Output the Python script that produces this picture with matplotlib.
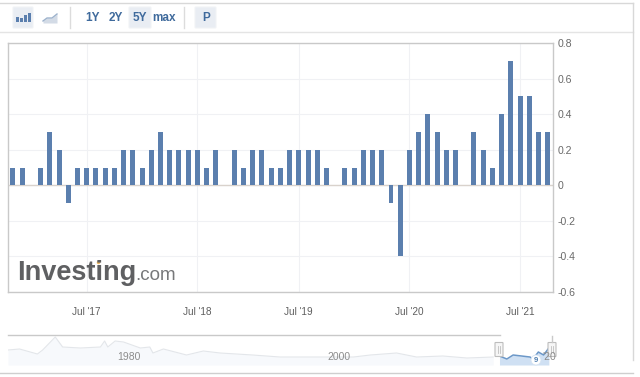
import numpy as np
import matplotlib
matplotlib.use('Agg')
import matplotlib.pyplot as plt
from matplotlib.patches import Circle, FancyBboxPatch, Rectangle

plt.rcParams['font.family'] = ['Liberation Sans', 'DejaVu Sans']

# monthly values, Nov 2016 - Sep 2021
values = [0.1, 0.1, 0, 0.1, 0.3, 0.2, -0.1, 0.1, 0.1, 0.1, 0.1, 0.1,
	0.2, 0.2, 0.1, 0.2, 0.3, 0.2, 0.2, 0.2, 0.2, 0.1, 0.2, 0,
	0.2, 0.1, 0.2, 0.2, 0.1, 0.1, 0.2, 0.2, 0.2, 0.2, 0.1, 0,
	0.1, 0.1, 0.2, 0.2, 0.2, -0.1, -0.4, 0.2, 0.3, 0.4, 0.3, 0.2,
	0.2, 0, 0.3, 0.2, 0.1, 0.4, 0.7, 0.5, 0.5, 0.3, 0.3]
y_ticks = [-0.6, -0.4, -0.2, 0, 0.2, 0.4, 0.6, 0.8]
y_labels = ['-0.6', '-0.4', '-0.2', '0', '0.2', '0.4', '0.6', '0.8']
x_tick_idx = [8, 20, 31, 43, 55]
x_labels = ["Jul '17", "Jul '18", "Jul '19", "Jul '20", "Jul '21"]

# overview strip along the bottom
nav_years = [1970.0, 1971.1, 1972.8, 1973.3, 1974.5, 1975.2, 1976.9, 1978.8, 1979.2, 1979.5,
	1980.2, 1981.0, 1982.6, 1983.5, 1983.8, 1984.8, 1987.0, 1988.6, 1990.2, 1993.3,
	1995.9, 1999.7, 2002.9, 2004.5, 2007.0, 2008.9, 2011.4, 2013.7, 2016.2]
nav_values = [15, 16, 11, 15, 28, 18, 17, 18, 24, 18, 24, 23, 17, 18, 12, 16, 10, 14, 12, 10,
	8, 8, 8, 10, 12, 8, 9, 7, 8]
sel_years = [2016.8, 2017.5, 2018.1, 2019.7, 2020.0, 2020.5, 2021.0, 2021.5]
sel_values = [9, 6, 10, 8, 6, 13, 10, 17]

W, H = 640, 377
fig = plt.figure(figsize=(W / 100, H / 100), dpi=100, facecolor='white')


def px_axes(left, top, right, bottom):
	return fig.add_axes([left / W, 1 - bottom / H, (right - left) / W, (bottom - top) / H])


# page furniture, in pixels
bg = fig.add_axes([0, 0, 1, 1])
bg.set_xlim(0, W)
bg.set_ylim(H, 0)
bg.axis('off')
bg.plot([0, 633], [3, 3], color='#d8d8d8', lw=1)
bg.plot([0, 633], [32, 32], color='#e4e4e4', lw=1)
bg.plot([0, 633], [373, 373], color='#cfcfcf', lw=1)
bg.plot([633, 633], [3, 360], color='#d8d8d8', lw=1)
for x0, x1 in [(13, 33), (129, 151), (195, 216)]:
	bg.add_patch(FancyBboxPatch((x0 + 1, 8), x1 - x0 - 2, 19, boxstyle='round,pad=1',
		fc='#e9edf3', ec='#f1f3f6', lw=0.8))
for x in [70, 184]:
	bg.plot([x, x], [7, 28], color='#dcdcdc', lw=1)
for x, h in zip([16, 20, 24, 27.5], [5, 4, 7, 9]):
	bg.add_patch(Rectangle((x, 22 - h), 3, h, fc='#5b7fae', ec='none'))
bg.fill_between([43, 47, 52, 57], [21, 18, 18, 14], 23, color='#d3dbe6', lw=0)
bg.plot([43, 47, 52, 57], [21, 18, 18, 14], color='#9db2cc', lw=1)
for x, s in [(92, '1Y'), (116, '2Y'), (139.5, '5Y'), (164, 'max'), (206, 'P')]:
	bg.text(x, 18, s, ha='center', va='center', fontsize=8.5, fontweight='bold', color='#3f6a9c')

# main chart
ax = px_axes(8, 43, 553, 292)
ax.bar(range(len(values)), values, width=0.54, color='#5b7fae', zorder=3)
ax.set_xlim(-0.54, 58.57)
ax.set_ylim(-0.6, 0.8)
ax.axhline(0, color='#d9d2cc', lw=1, zorder=2)
ax.set_xticks(x_tick_idx)
ax.set_xticklabels(x_labels, fontsize=7.2, color='#5e5e5e')
ax.set_yticks(y_ticks)
ax.set_yticklabels(y_labels, fontsize=7.6, color='#6a6a6a')
ax.yaxis.tick_right()
ax.tick_params(length=0)
ax.tick_params(axis='x', pad=11)
ax.tick_params(axis='y', pad=3)
ax.grid(color='#f0f1f4', lw=0.8, zorder=0)
ax.set_axisbelow(True)
for s in ax.spines.values():
	s.set_color('#c9c9c9')
	s.set_linewidth(1)

# logo
bg.set_zorder(5)
bg.text(17, 273, 'Investing', fontsize=19.5, fontweight='bold', color='#5f6062', va='center', ha='left')
bg.text(135, 275, '.com', fontsize=13.5, color='#77787a', va='center', ha='left')
bg.plot([98], [262], 'o', ms=2.5, color='#f0b75e', mec='none')

# overview
nav = px_axes(8, 335, 552, 365)
nav.fill_between(nav_years, nav_values, 0, color='#f7f9fc', lw=0)
nav.plot(nav_years, nav_values, color='#e3e6ea', lw=0.8)
nav.fill_between(sel_years, sel_values, 0, color='#cfe0f3', lw=0)
nav.plot(sel_years, sel_values, color='#6b97c8', lw=1.1)
nav.set_xlim(1970, 2021.8)
nav.set_ylim(0, 30)
nav.axis('off')

bg.plot([8, 500], [335, 335], color='#c9c9c9', lw=1)
bg.plot([552, 552], [336, 342], color='#c9c9c9', lw=1)
for x in [499, 552]:
	bg.add_patch(FancyBboxPatch((x - 3.5, 343), 7, 13, boxstyle='round,pad=0.5',
		fc='#f6f6f6', ec='#bdbdbd', lw=0.8))
	bg.plot([x - 1, x - 1], [346, 353], color='#c0c0c0', lw=0.6)
	bg.plot([x + 1, x + 1], [346, 353], color='#c0c0c0', lw=0.6)
bg.add_patch(Circle((536, 360), 5, fc='white', ec='#d5e3f2', lw=0.6))
bg.text(536, 360, '9', ha='center', va='center', fontsize=5.5, fontweight='bold', color='#4f7fb0')
for x, s in [(129, '1980'), (339, '2000'), (549, "'20")]:
	bg.text(x, 357, s, ha='center', va='center', fontsize=7.5, color='#8c8c8c')

fig.savefig('out.png', dpi=100)
